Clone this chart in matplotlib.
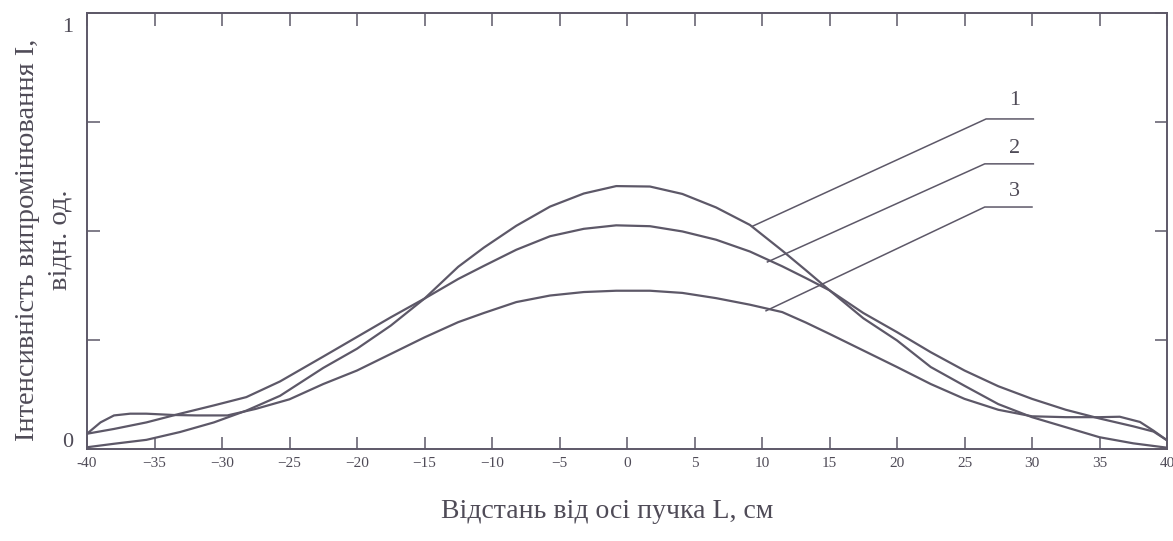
import numpy as np
import matplotlib.transforms as mtransforms
from matplotlib import pyplot as plt

# curve 1 - narrowest, highest peak
x1 = [-40, -38, -35.6, -33.1, -30.6, -28.2, -25.7, -22.5, -20, -17.5, -15, -12.5, -10.6, -8.2, -5.7, -3.2,
      -0.8, 1.7, 4.1, 6.6, 9.1, 11.5, 13.25, 15, 17.5, 20, 22.5, 25, 27.5, 30, 32.5, 35, 37.5, 40]
y1 = [0.004, 0.012, 0.021, 0.039, 0.061, 0.088, 0.122, 0.186, 0.230, 0.283, 0.345, 0.418, 0.462, 0.512,
      0.556, 0.586, 0.603, 0.602, 0.585, 0.554, 0.514, 0.455, 0.410, 0.364, 0.300, 0.249, 0.188, 0.145,
      0.103, 0.073, 0.050, 0.027, 0.013, 0.003]

# curve 2
x2 = [-40, -38, -35.6, -33.1, -30.6, -28.2, -25.7, -22.5, -20, -17.5, -15, -12.5, -10.6, -8.2, -5.7, -3.2,
      -0.8, 1.7, 4.1, 6.6, 9.1, 11.5, 13.25, 15, 17.5, 20, 22.5, 25, 27.5, 30, 32.5, 35, 37.5, 39, 40]
y2 = [0.035, 0.046, 0.061, 0.081, 0.100, 0.119, 0.155, 0.212, 0.257, 0.302, 0.345, 0.390, 0.420, 0.457,
      0.488, 0.505, 0.513, 0.511, 0.499, 0.480, 0.453, 0.419, 0.392, 0.364, 0.312, 0.268, 0.222, 0.180,
      0.144, 0.115, 0.090, 0.070, 0.052, 0.040, 0.020]

# curve 3 - broadest, with shoulders near the edges
x3 = [-40, -39, -38, -36.8, -35.6, -33.6, -31.9, -29.6, -27.5, -25, -22.5, -20, -17.5, -15, -12.5, -10.6,
      -8.2, -5.7, -3.2, -0.8, 1.7, 4.1, 6.6, 9.1, 11.5, 13.25, 15, 17.5, 20, 22.5, 25, 27.5, 30, 32.5,
      35, 36.5, 38, 39, 40]
y3 = [0.035, 0.061, 0.077, 0.081, 0.081, 0.078, 0.077, 0.077, 0.092, 0.114, 0.149, 0.180, 0.218, 0.256,
      0.291, 0.312, 0.337, 0.352, 0.360, 0.363, 0.363, 0.358, 0.346, 0.331, 0.314, 0.290, 0.264, 0.226,
      0.188, 0.149, 0.115, 0.090, 0.075, 0.073, 0.073, 0.074, 0.062, 0.042, 0.020]

curve_labels = ['1', '2', '3']
# leader lines: (start on curve, elbow, end)
leader_x = [[9.3, 26.6, 30.1], [10.4, 26.5, 30.1], [10.3, 26.5, 30.0]]
leader_y = [[0.511, 0.757, 0.757], [0.429, 0.654, 0.654], [0.317, 0.555, 0.555]]
label_pos = [(28.7, 0.80), (28.7, 0.69), (28.7, 0.59)]

xticks = list(range(-40, 41, 5))
xtick_labels = [str(v).replace('-', '\u2212') for v in xticks]
xtick_labels[0] = '-40'
yticks = [0, 0.25, 0.5, 0.75, 1]
ytick_labels = ['0', '', '', '', '1']

plt.rcParams['font.family'] = ['Liberation Serif', 'DejaVu Serif']
line_c = '#5d5868'
text_c = '#4f4b57'

fig = plt.figure(figsize=(11.73, 5.41), dpi=100)
ax = fig.add_axes([87/1173, 1 - 449/541, (1167 - 87)/1173, (449 - 13)/541])

for xs, ys in [(x1, y1), (x2, y2), (x3, y3)]:
    ax.plot(xs, ys, color=line_c, lw=1.6, solid_joinstyle='round')
for lx, ly in zip(leader_x, leader_y):
    ax.plot(lx, ly, color=line_c, lw=1.1)
for lab, (px, py) in zip(curve_labels, label_pos):
    ax.text(px, py, lab, fontsize=16, color=text_c, ha='center', va='center')

ax.set_xlim(-40, 40)
ax.set_ylim(0, 1)
ax.set_xticks(xticks)
ax.set_xticklabels(xtick_labels, fontsize=11, color=text_c)
ax.set_yticks(yticks)
ax.set_yticklabels(ytick_labels, fontsize=16, color=text_c)
ax.tick_params(axis='both', direction='in', length=9, width=1.1, color=line_c,
               top=True, right=True)
ax.tick_params(axis='x', pad=6)
ax.tick_params(axis='y', pad=10)
for s in ax.spines.values():
    s.set_color(line_c)
    s.set_linewidth(1.4)

# the scanned "0" and "1" sit a little inside the axis range
ylabs = ax.get_yticklabels()
ylabs[0].set_transform(ylabs[0].get_transform() + mtransforms.ScaledTranslation(0, 0.09, fig.dpi_scale_trans))
ylabs[-1].set_transform(ylabs[-1].get_transform() + mtransforms.ScaledTranslation(0, -0.12, fig.dpi_scale_trans))

# y label in two separate lines
fig.text(28/1173, 1 - 240/541, 'Інтенсивність випромінювання І,',
         rotation=90, ha='center', va='center', fontsize=20.5, color=text_c)
fig.text(60/1173, 1 - 240/541, 'відн. од.',
         rotation=90, ha='center', va='center', fontsize=20.5, color=text_c)
fig.text(607/1173, 1 - 511/541, 'Відстань від осі пучка L, см',
         ha='center', va='center', fontsize=20, color=text_c)

fig.savefig('out.png', dpi=100)
